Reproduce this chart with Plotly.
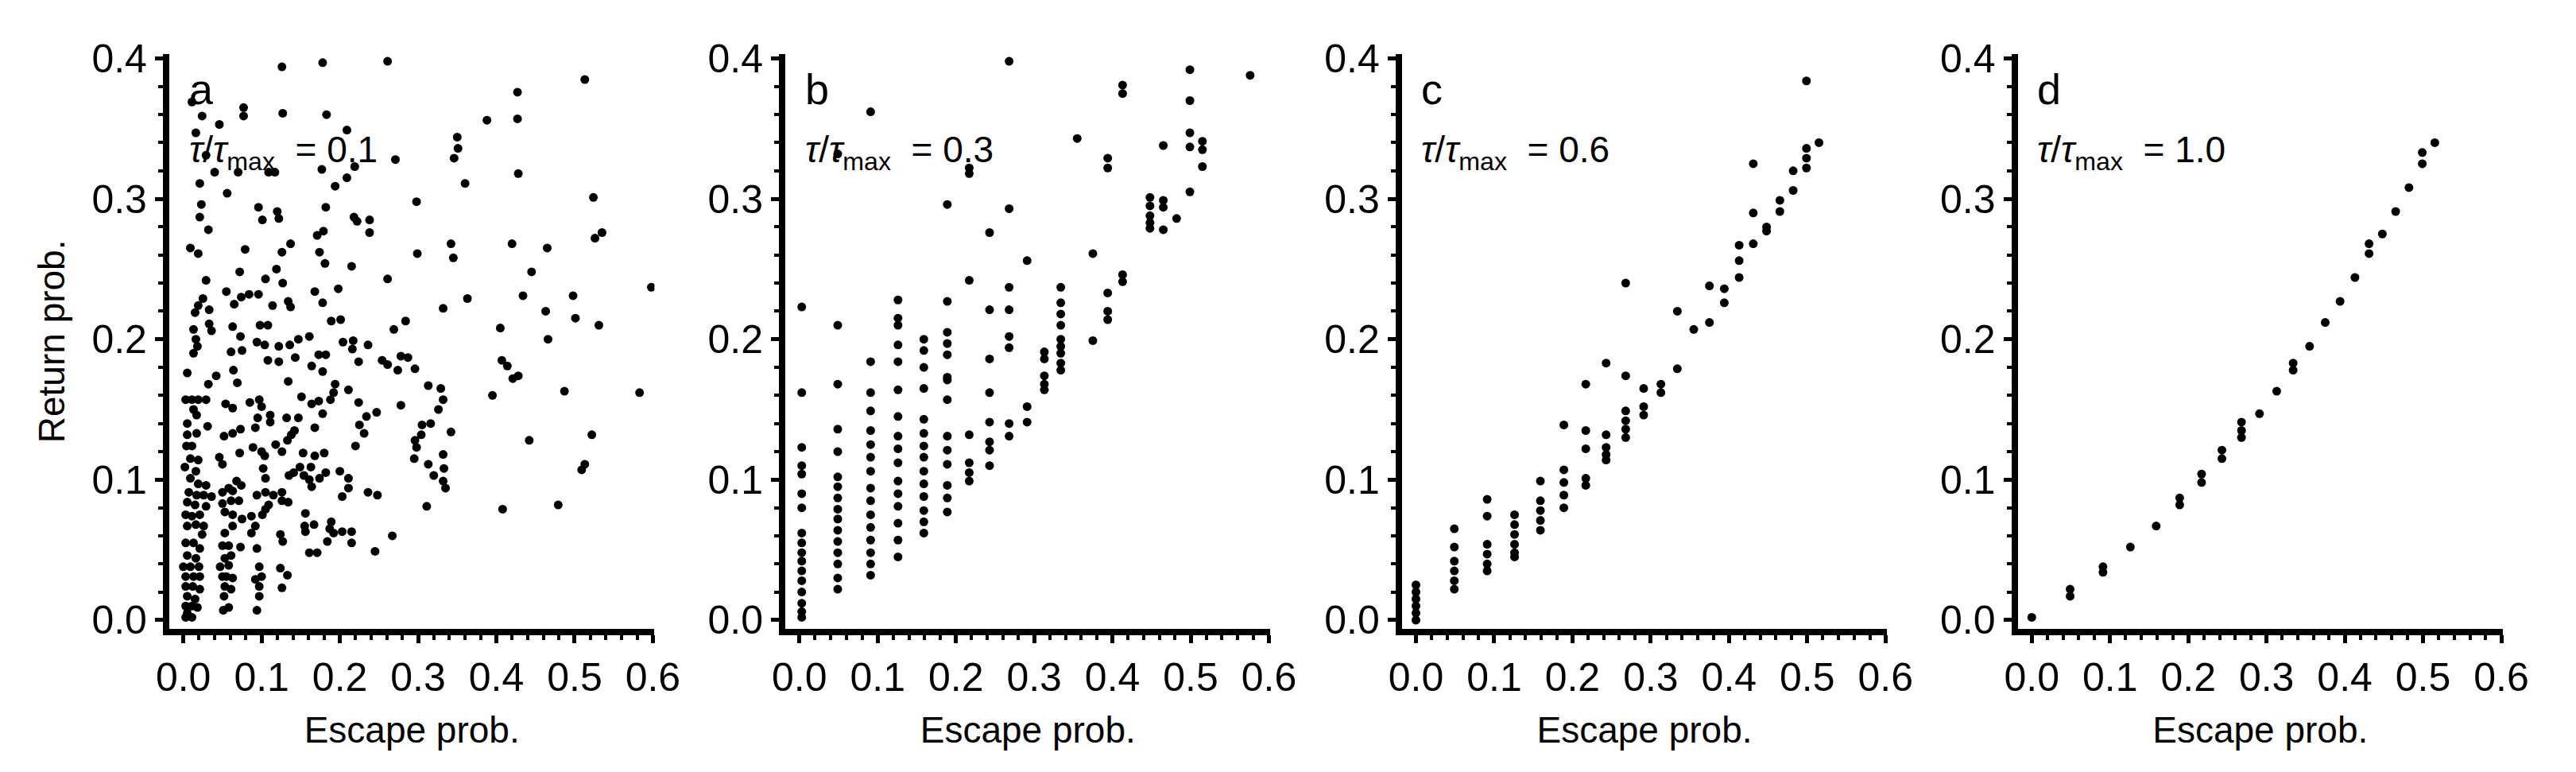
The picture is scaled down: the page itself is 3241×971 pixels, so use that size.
import plotly.graph_objects as go

# Panel a: tau/tau_max = 0.1
a_x = [0.126, 0.178, 0.261, 0.513, 0.427, 0.427, 0.388, 0.077, 0.077, 0.127, 0.183, 0.209, 0.011, 0.024,
       0.046, 0.016, 0.35, 0.351, 0.346, 0.271, 0.029, 0.04, 0.07, 0.109, 0.117, 0.177, 0.219, 0.209, 0.428,
       0.36, 0.021, 0.056, 0.194, 0.298, 0.524, 0.023, 0.096, 0.021, 0.101, 0.12, 0.122, 0.182, 0.032, 0.218,
       0.222, 0.238, 0.238, 0.171, 0.179, 0.342, 0.42, 0.465, 0.526, 0.535, 0.009, 0.019, 0.079, 0.137, 0.126,
       0.174, 0.181, 0.299, 0.345, 0.215, 0.119, 0.072, 0.445, 0.105, 0.029, 0.261, 0.127, 0.055, 0.074, 0.084,
       0.096, 0.168, 0.198, 0.363, 0.434, 0.498, 0.598, 0.025, 0.019, 0.015, 0.033, 0.065, 0.114, 0.134, 0.137,
       0.178, 0.332, 0.463, 0.501, 0.531, 0.063, 0.033, 0.036, 0.013, 0.098, 0.108, 0.189, 0.201, 0.269, 0.284,
       0.405, 0.016, 0.018, 0.073, 0.094, 0.104, 0.122, 0.136, 0.147, 0.161, 0.204, 0.217, 0.236, 0.466, 0.013,
       0.061, 0.075, 0.108, 0.122, 0.143, 0.182, 0.173, 0.216, 0.224, 0.254, 0.261, 0.278, 0.287, 0.274, 0.296,
       0.407, 0.414, 0.421, 0.428, 0.164, 0.178, 0.005, 0.042, 0.032, 0.064, 0.069, 0.134, 0.194, 0.211, 0.192,
       0.188, 0.313, 0.329, 0.332, 0.395, 0.487, 0.583, 0.003, 0.011, 0.019, 0.029, 0.013, 0.054, 0.063, 0.085,
       0.097, 0.1, 0.151, 0.164, 0.173, 0.224, 0.247, 0.326, 0.005, 0.017, 0.031, 0.095, 0.111, 0.132, 0.147,
       0.178, 0.225, 0.234, 0.278, 0.305, 0.316, 0.342, 0.005, 0.017, 0.052, 0.063, 0.073, 0.092, 0.111, 0.138,
       0.142, 0.168, 0.231, 0.296, 0.304, 0.004, 0.011, 0.089, 0.1, 0.118, 0.126, 0.133, 0.298, 0.22, 0.442,
       0.009, 0.019, 0.046, 0.072, 0.104, 0.153, 0.168, 0.18, 0.295, 0.332, 0.522, 0.002, 0.016, 0.05, 0.102,
       0.149, 0.163, 0.333, 0.513, 0.509, 0.313, 0.009, 0.019, 0.029, 0.068, 0.074, 0.058, 0.105, 0.135, 0.141,
       0.154, 0.161, 0.174, 0.182, 0.2, 0.211, 0.32, 0.332, 0.335, 0.164, 0.211, 0.007, 0.017, 0.026, 0.036,
       0.05, 0.063, 0.094, 0.105, 0.126, 0.115, 0.203, 0.236, 0.248, 0.005, 0.015, 0.029, 0.05, 0.061, 0.071,
       0.126, 0.134, 0.109, 0.408, 0.479, 0.311, 0.003, 0.011, 0.021, 0.053, 0.063, 0.087, 0.101, 0.105, 0.156,
       0.005, 0.016, 0.026, 0.063, 0.075, 0.092, 0.155, 0.167, 0.189, 0.187, 0.024, 0.053, 0.087, 0.124, 0.127,
       0.156, 0.192, 0.203, 0.215, 0.215, 0.267, 0.184, 0.003, 0.013, 0.021, 0.05, 0.058, 0.073, 0.094, 0.161,
       0.171, 0.245, 0.005, 0.016, 0.053, 0.061, 0.0, 0.009, 0.02, 0.047, 0.058, 0.097, 0.124, 0.003, 0.013,
       0.021, 0.05, 0.055, 0.063, 0.092, 0.1, 0.133, 0.003, 0.012, 0.021, 0.053, 0.061, 0.097, 0.126, 0.005,
       0.015, 0.052, 0.097, 0.003, 0.011, 0.018, 0.051, 0.058, 0.094, 0.003, 0.011, 0.005]
a_y = [0.394, 0.397, 0.398, 0.385, 0.376, 0.357, 0.356, 0.365, 0.359, 0.361, 0.36, 0.349, 0.369, 0.359,
       0.353, 0.347, 0.344, 0.336, 0.329, 0.328, 0.331, 0.319, 0.319, 0.319, 0.319, 0.321, 0.323, 0.315, 0.318,
       0.311, 0.311, 0.304, 0.309, 0.298, 0.301, 0.296, 0.294, 0.287, 0.285, 0.291, 0.286, 0.294, 0.278, 0.287,
       0.284, 0.285, 0.276, 0.274, 0.277, 0.268, 0.268, 0.265, 0.272, 0.276, 0.265, 0.261, 0.264, 0.268, 0.262,
       0.262, 0.254, 0.261, 0.258, 0.252, 0.25, 0.248, 0.248, 0.243, 0.242, 0.243, 0.24, 0.234, 0.23, 0.232,
       0.232, 0.234, 0.236, 0.229, 0.231, 0.231, 0.237, 0.229, 0.224, 0.219, 0.221, 0.225, 0.224, 0.227, 0.223,
       0.226, 0.222, 0.22, 0.215, 0.21, 0.209, 0.211, 0.206, 0.207, 0.21, 0.21, 0.213, 0.214, 0.207, 0.213,
       0.208, 0.2, 0.195, 0.202, 0.198, 0.196, 0.195, 0.196, 0.2, 0.202, 0.198, 0.199, 0.196, 0.2, 0.19,
       0.191, 0.192, 0.185, 0.184, 0.187, 0.189, 0.189, 0.193, 0.184, 0.185, 0.182, 0.188, 0.187, 0.178, 0.179,
       0.185, 0.181, 0.172, 0.174, 0.181, 0.177, 0.176, 0.174, 0.168, 0.178, 0.169, 0.17, 0.168, 0.164, 0.162,
       0.157, 0.167, 0.165, 0.157, 0.16, 0.163, 0.162, 0.157, 0.157, 0.157, 0.157, 0.15, 0.154, 0.151, 0.155,
       0.157, 0.152, 0.159, 0.154, 0.156, 0.155, 0.148, 0.15, 0.14, 0.146, 0.138, 0.144, 0.146, 0.144, 0.144,
       0.147, 0.139, 0.145, 0.153, 0.139, 0.14, 0.134, 0.132, 0.133, 0.131, 0.133, 0.136, 0.137, 0.141, 0.132,
       0.135, 0.137, 0.133, 0.128, 0.132, 0.124, 0.124, 0.123, 0.12, 0.125, 0.12, 0.128, 0.123, 0.124, 0.128,
       0.115, 0.114, 0.116, 0.119, 0.117, 0.119, 0.117, 0.119, 0.115, 0.118, 0.132, 0.109, 0.106, 0.111, 0.108,
       0.109, 0.109, 0.108, 0.111, 0.107, 0.111, 0.101, 0.097, 0.096, 0.099, 0.096, 0.094, 0.101, 0.103, 0.105,
       0.103, 0.1, 0.101, 0.105, 0.106, 0.101, 0.103, 0.099, 0.094, 0.095, 0.094, 0.091, 0.089, 0.089, 0.088,
       0.091, 0.092, 0.089, 0.091, 0.091, 0.089, 0.088, 0.091, 0.089, 0.084, 0.082, 0.081, 0.083, 0.085, 0.085,
       0.085, 0.084, 0.082, 0.079, 0.082, 0.081, 0.075, 0.074, 0.075, 0.077, 0.075, 0.074, 0.075, 0.079, 0.076,
       0.067, 0.068, 0.067, 0.067, 0.072, 0.067, 0.067, 0.068, 0.07, 0.065, 0.061, 0.062, 0.062, 0.061, 0.056,
       0.063, 0.062, 0.063, 0.063, 0.055, 0.06, 0.056, 0.055, 0.055, 0.051, 0.053, 0.053, 0.052, 0.051, 0.048,
       0.048, 0.049, 0.046, 0.044, 0.044, 0.046, 0.038, 0.038, 0.038, 0.038, 0.039, 0.038, 0.037, 0.031, 0.031,
       0.031, 0.031, 0.031, 0.03, 0.029, 0.031, 0.032, 0.024, 0.024, 0.022, 0.024, 0.022, 0.024, 0.023, 0.017,
       0.015, 0.017, 0.017, 0.01, 0.01, 0.009, 0.007, 0.009, 0.007, 0.002, 0.002, 0.005]

# Panel b: tau/tau_max = 0.3
b_x = [0.003] * 17 + [0.049] * 16 + [0.091] * 16 + [0.126] * 16 + [0.159] * 14 + [0.189] * 14 \
    + [0.217] * 7 + [0.243] * 8 + [0.268] * 8 + [0.291] * 3 + [0.313] * 5 + [0.334] * 9 \
    + [0.355] + [0.375] * 2 + [0.394] * 5 + [0.413] * 4 + [0.448] * 5 + [0.465] * 4 + [0.482] \
    + [0.499] * 5 + [0.515] * 3 + [0.576]
b_y = [0.223, 0.162, 0.123, 0.11, 0.104, 0.09, 0.08, 0.062, 0.055, 0.048, 0.042, 0.035, 0.028, 0.02, 0.012, 0.006, 0.002,
       0.332, 0.21, 0.168, 0.136, 0.12, 0.102, 0.095, 0.087, 0.079, 0.072, 0.064, 0.056, 0.048, 0.04, 0.03, 0.022,
       0.362, 0.184, 0.162, 0.149, 0.135, 0.125, 0.116, 0.106, 0.094, 0.085, 0.075, 0.066, 0.057, 0.048, 0.04, 0.032,
       0.228, 0.215, 0.21, 0.196, 0.184, 0.164, 0.145, 0.131, 0.122, 0.112, 0.099, 0.09, 0.081, 0.069, 0.057, 0.045,
       0.2, 0.192, 0.18, 0.165, 0.143, 0.133, 0.124, 0.116, 0.106, 0.097, 0.088, 0.078, 0.07, 0.062,
       0.296, 0.227, 0.205, 0.197, 0.189, 0.173, 0.171, 0.157, 0.131, 0.121, 0.111, 0.096, 0.087, 0.077,
       0.322, 0.318, 0.242, 0.132, 0.112, 0.105, 0.099,
       0.276, 0.221, 0.186, 0.162, 0.141, 0.127, 0.121, 0.11,
       0.398, 0.293, 0.237, 0.221, 0.202, 0.194, 0.14, 0.131,
       0.256, 0.152, 0.141,
       0.191, 0.186, 0.174, 0.168, 0.164,
       0.237, 0.226, 0.218, 0.21, 0.2, 0.195, 0.19, 0.183, 0.178,
       0.343,
       0.261, 0.199,
       0.329, 0.322, 0.233, 0.22, 0.214,
       0.381, 0.375, 0.246, 0.241,
       0.301, 0.295, 0.288, 0.283, 0.279,
       0.338, 0.299, 0.294, 0.278,
       0.286,
       0.392, 0.37, 0.347, 0.337, 0.305,
       0.341, 0.335, 0.323,
       0.388]

# Panel c: tau/tau_max = 0.6
c_x = [0.0] * 6 + [0.049] * 6 + [0.091] * 6 + [0.126] * 6 + [0.159] * 5 + [0.189] * 5 + [0.217] * 5 \
    + [0.243] * 5 + [0.268] * 6 + [0.291] * 3 + [0.313] * 2 + [0.334] * 2 + [0.355] + [0.375] * 2 \
    + [0.394] * 2 + [0.413] * 3 + [0.431] * 3 + [0.448] * 2 + [0.465] * 2 + [0.482] * 2 + [0.499] * 4 + [0.515]
c_y = [0.0, 0.005, 0.01, 0.015, 0.02, 0.025,
       0.065, 0.052, 0.042, 0.035, 0.028, 0.022,
       0.086, 0.074, 0.054, 0.047, 0.04, 0.035,
       0.075, 0.068, 0.061, 0.054, 0.048, 0.045,
       0.099, 0.085, 0.078, 0.071, 0.064,
       0.139, 0.107, 0.098, 0.089, 0.08,
       0.168, 0.135, 0.122, 0.101, 0.096,
       0.183, 0.132, 0.123, 0.118, 0.114,
       0.24, 0.174, 0.149, 0.142, 0.136, 0.13,
       0.165, 0.152, 0.146,
       0.168, 0.162,
       0.22, 0.179,
       0.207,
       0.238, 0.212,
       0.236, 0.226,
       0.267, 0.256, 0.244,
       0.325, 0.29, 0.268,
       0.28, 0.277,
       0.299, 0.291,
       0.32, 0.306,
       0.384, 0.336, 0.329, 0.322,
       0.34]

# Panel d: tau/tau_max = 1.0
d_x = [0.0, 0.049, 0.049, 0.091, 0.091, 0.126, 0.159, 0.189, 0.189, 0.217, 0.217, 0.243, 0.243,
       0.268, 0.268, 0.268, 0.291, 0.313, 0.334, 0.334, 0.355, 0.375, 0.394, 0.413, 0.431, 0.431,
       0.448, 0.465, 0.482, 0.499, 0.499, 0.515]
d_y = [0.002, 0.022, 0.017, 0.038, 0.034, 0.052, 0.067, 0.087, 0.082, 0.104, 0.098, 0.121, 0.115,
       0.141, 0.135, 0.13, 0.147, 0.163, 0.183, 0.178, 0.195, 0.212, 0.227, 0.244, 0.268, 0.261,
       0.275, 0.291, 0.308, 0.333, 0.325, 0.34]

panels = [("a", "0.1", a_x, a_y), ("b", "0.3", b_x, b_y), ("c", "0.6", c_x, c_y), ("d", "1.0", d_x, d_y)]
x_domains = [(0.0589, 0.2502), (0.3018, 0.4931), (0.5449, 0.7362), (0.7877, 0.9790)]

FONT = "Liberation Sans, Arial, sans-serif"
fig = go.Figure()
layout = dict(
    width=3241, height=971, margin=dict(l=0, r=0, t=0, b=0),
    paper_bgcolor="white", plot_bgcolor="white", showlegend=False,
    font=dict(family=FONT, size=50, color="black"),
)
annotations = []
for i, (letter, tau, xs, ys) in enumerate(panels):
    sfx = "" if i == 0 else str(i + 1)
    fig.add_trace(go.Scatter(x=xs, y=ys, mode="markers", xaxis="x" + sfx, yaxis="y" + sfx,
                             marker=dict(color="black", size=11), cliponaxis=True))
    common = dict(showgrid=False, zeroline=False, showline=True, linecolor="black", linewidth=8,
                  ticks="outside", ticklen=10, tickwidth=5, tickcolor="black",
                  tickfont=dict(size=50, family=FONT),
                  minor=dict(ticks="outside", ticklen=6, tickwidth=4, tickcolor="black", dtick=0.02))
    layout["xaxis" + sfx] = dict(common, domain=x_domains[i], range=[-0.018, 0.602], dtick=0.1,
                                 tickformat=".1f", anchor="y" + sfx,
                                 title=dict(text="Escape prob.", font=dict(size=46), standoff=26))
    ytitle = dict(text="Return prob.", font=dict(size=46), standoff=22) if i == 0 else None
    layout["yaxis" + sfx] = dict(common, domain=[0.184, 0.959], range=[-0.006, 0.403], dtick=0.1,
                                 tickformat=".1f", anchor="x" + sfx, title=ytitle)
    annotations.append(dict(x=0.005, y=0.378, xref="x" + sfx, yref="y" + sfx, text=letter,
                            showarrow=False, xanchor="left", yanchor="middle", font=dict(size=54)))
    annotations.append(dict(x=0.005, y=0.333, xref="x" + sfx, yref="y" + sfx,
                            text=f"<i>τ</i>/<i>τ</i><sub>max</sub>  = {tau}",
                            showarrow=False, xanchor="left", yanchor="middle", font=dict(size=46)))
layout["annotations"] = annotations
fig.update_layout(**layout)
fig.write_html("out.html")
